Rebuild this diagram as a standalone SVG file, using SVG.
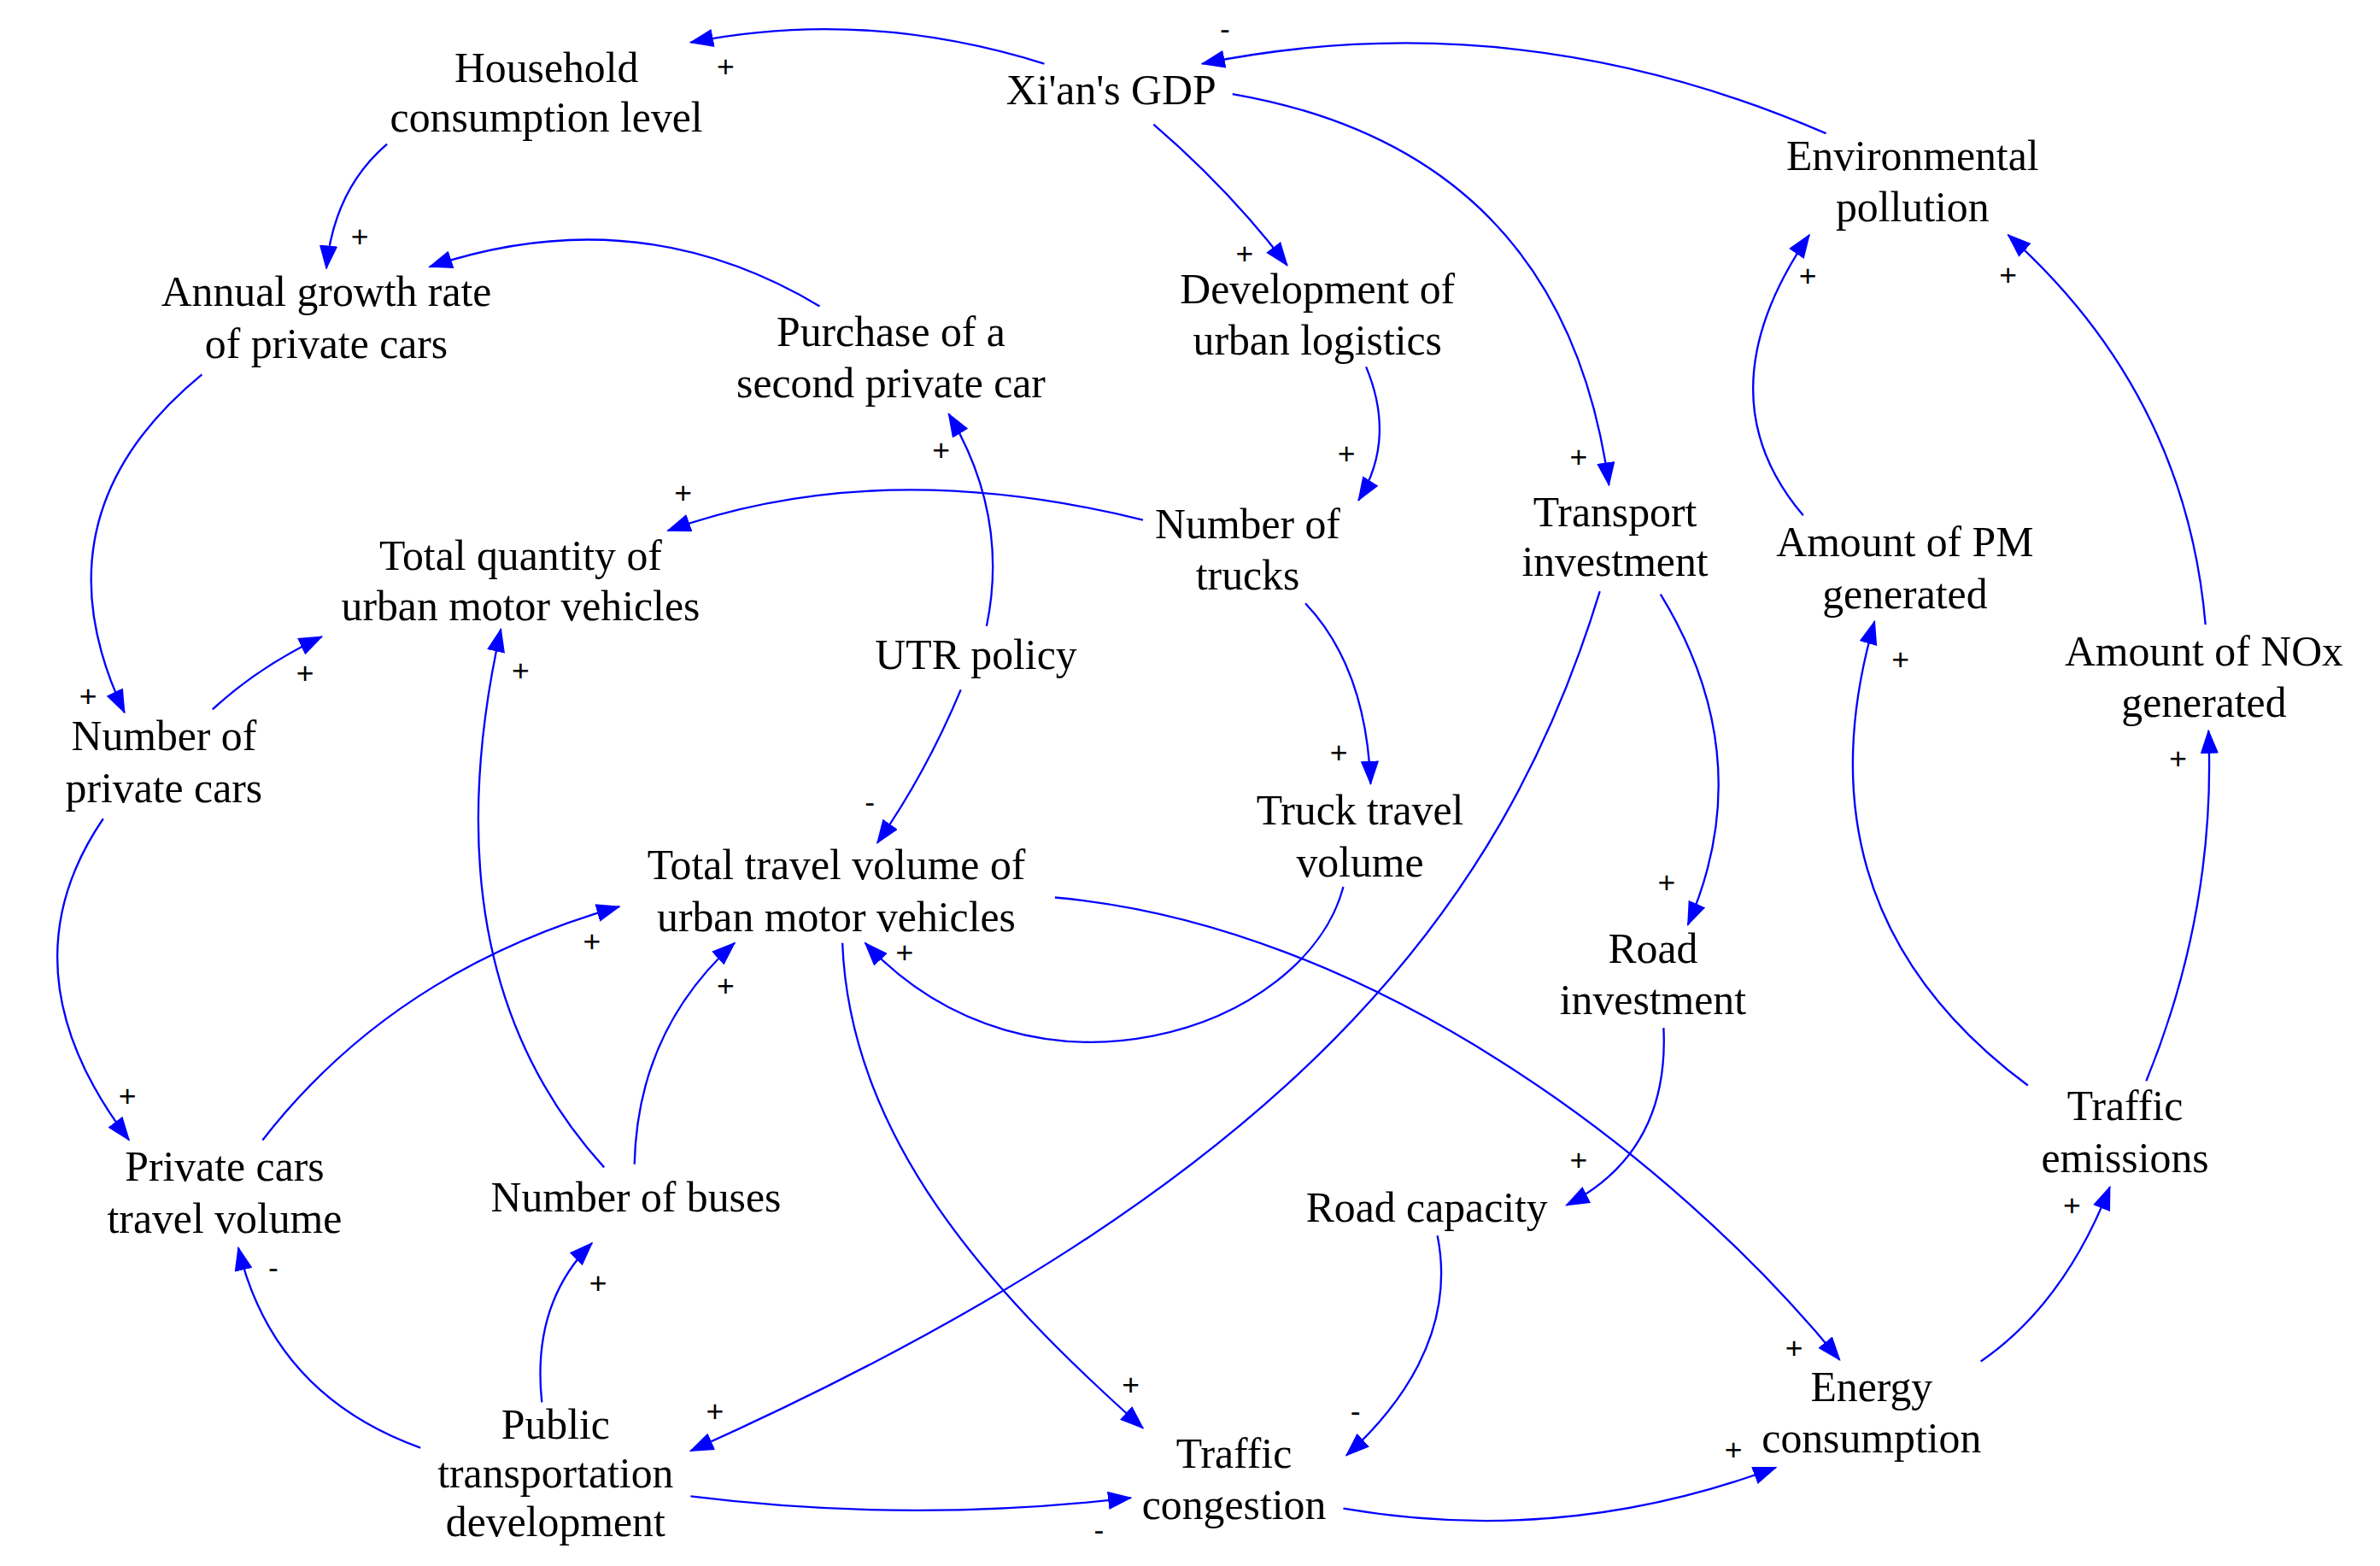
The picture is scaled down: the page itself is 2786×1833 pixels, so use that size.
<svg xmlns="http://www.w3.org/2000/svg" width="2786" height="1833" viewBox="0 0 2786 1833">
<defs>
<marker id="ah" markerUnits="userSpaceOnUse" markerWidth="16" markerHeight="12" refX="15" refY="6" orient="auto"><path d="M0,0 L16,6 L0,12 Z" fill="#0000FF"/></marker>
<style>
.n{font-family:"Liberation Serif","Times New Roman",serif;font-size:28px;fill:#000;text-anchor:middle}
.p{font-family:"Liberation Sans",Arial,sans-serif;font-size:20px;fill:#000;text-anchor:middle}
.c path{fill:none;stroke:#0000FF;stroke-width:1.3;marker-end:url(#ah)}
</style>
</defs>
<rect width="2786" height="1833" fill="#fff"/>
<g transform="scale(1.7768,1.7745)">
<g class="c" id="connectors">
<path d="M688,42 Q570,5 455,28"/>
<path d="M1203,88 Q1000,0 792,42"/>
<path d="M760,82 Q810,125 848,175"/>
<path d="M812,62 Q1030,100 1060,320"/>
<path d="M255,95 Q220,125 215,177"/>
<path d="M540,202 Q420,130 283,176"/>
<path d="M900,242 Q920,290 895,330"/>
<path d="M753,343 Q580,300 440,350"/>
<path d="M650,413 Q665,340 625,273"/>
<path d="M633,455 Q610,510 578,556"/>
<path d="M133,247 Q20,340 82,470"/>
<path d="M140,468 Q170,440 212,420"/>
<path d="M68,540 Q0,640 85,752"/>
<path d="M173,752 Q260,640 408,598"/>
<path d="M398,770 Q280,640 330,415"/>
<path d="M418,768 Q420,680 484,622"/>
<path d="M885,585 C860,680 680,740 570,622"/>
<path d="M860,398 Q900,440 903,517"/>
<path d="M1094,392 Q1160,500 1112,610"/>
<path d="M1054,390 C990,600 850,780 455,957"/>
<path d="M1096,678 Q1100,760 1032,795"/>
<path d="M555,622 C560,750 650,850 753,942"/>
<path d="M695,592 C900,610 1100,760 1212,897"/>
<path d="M947,815 C960,880 920,930 887,960"/>
<path d="M357,925 Q350,860 390,820"/>
<path d="M277,955 Q180,920 157,823"/>
<path d="M455,987 Q600,1005 745,988"/>
<path d="M885,995 Q1030,1020 1170,968"/>
<path d="M1305,898 Q1360,860 1390,783"/>
<path d="M1336,716 Q1180,600 1235,410"/>
<path d="M1414,713 Q1460,600 1455,482"/>
<path d="M1188,340 Q1120,260 1192,155"/>
<path d="M1453,412 Q1440,260 1323,155"/>
</g>
<g id="polarities" class="p">
<text x="478" y="51">+</text><text x="807" y="26">-</text><text x="820" y="174">+</text><text x="1040" y="308">+</text>
<text x="237" y="163">+</text><text x="887" y="306">+</text><text x="450" y="332">+</text><text x="620" y="304">+</text>
<text x="573" y="536">-</text><text x="58" y="466">+</text><text x="201" y="451">+</text><text x="84" y="730">+</text>
<text x="390" y="628">+</text><text x="343" y="449">+</text><text x="478" y="657">+</text><text x="596" y="635">+</text>
<text x="882" y="503">+</text><text x="1098" y="589">+</text><text x="471" y="938">+</text><text x="1040" y="772">+</text>
<text x="745" y="920">+</text><text x="1182" y="896">+</text><text x="893" y="938">-</text><text x="394" y="853">+</text>
<text x="180" y="843">-</text><text x="724" y="1016">-</text><text x="1142" y="963">+</text><text x="1365" y="802">+</text>
<text x="1252" y="442">+</text><text x="1435" y="507">+</text><text x="1191" y="189">+</text><text x="1323" y="188">+</text>
</g>
<g id="household" class="n"><text x="360" y="54">Household</text><text x="360" y="87">consumption level</text></g>
<g id="gdp" class="n"><text x="732" y="69">Xi'an's GDP</text></g>
<g id="envpollution" class="n"><text x="1260" y="112">Environmental</text><text x="1260" y="146">pollution</text></g>
<g id="annualgrowth" class="n"><text x="215" y="202">Annual growth rate</text><text x="215" y="236">of private cars</text></g>
<g id="secondcar" class="n"><text x="587" y="228">Purchase of a</text><text x="587" y="262">second private car</text></g>
<g id="logistics" class="n"><text x="868" y="200">Development of</text><text x="868" y="234">urban logistics</text></g>
<g id="trucks" class="n"><text x="822" y="355">Number of</text><text x="822" y="389">trucks</text></g>
<g id="transportinv" class="n"><text x="1064" y="347">Transport</text><text x="1064" y="380">investment</text></g>
<g id="pm" class="n"><text x="1255" y="367">Amount of PM</text><text x="1255" y="401">generated</text></g>
<g id="nox" class="n"><text x="1452" y="439">Amount of NOx</text><text x="1452" y="473">generated</text></g>
<g id="totalqty" class="n"><text x="343" y="376">Total quantity of</text><text x="343" y="409">urban motor vehicles</text></g>
<g id="utr" class="n"><text x="643" y="441">UTR policy</text></g>
<g id="privatecars" class="n"><text x="108" y="495">Number of</text><text x="108" y="529">private cars</text></g>
<g id="trucktravel" class="n"><text x="896" y="544">Truck travel</text><text x="896" y="578">volume</text></g>
<g id="totaltravel" class="n"><text x="551" y="580">Total travel volume of</text><text x="551" y="614">urban motor vehicles</text></g>
<g id="roadinv" class="n"><text x="1089" y="635">Road</text><text x="1089" y="669">investment</text></g>
<g id="pctravel" class="n"><text x="148" y="779">Private cars</text><text x="148" y="813">travel volume</text></g>
<g id="buses" class="n"><text x="419" y="799">Number of buses</text></g>
<g id="roadcap" class="n"><text x="940" y="806">Road capacity</text></g>
<g id="emissions" class="n"><text x="1400" y="739">Traffic</text><text x="1400" y="773">emissions</text></g>
<g id="publictransport" class="n"><text x="366" y="949">Public</text><text x="366" y="981">transportation</text><text x="366" y="1013">development</text></g>
<g id="congestion" class="n"><text x="813" y="968">Traffic</text><text x="813" y="1002">congestion</text></g>
<g id="energy" class="n"><text x="1233" y="924">Energy</text><text x="1233" y="958">consumption</text></g>
</g>
</svg>
